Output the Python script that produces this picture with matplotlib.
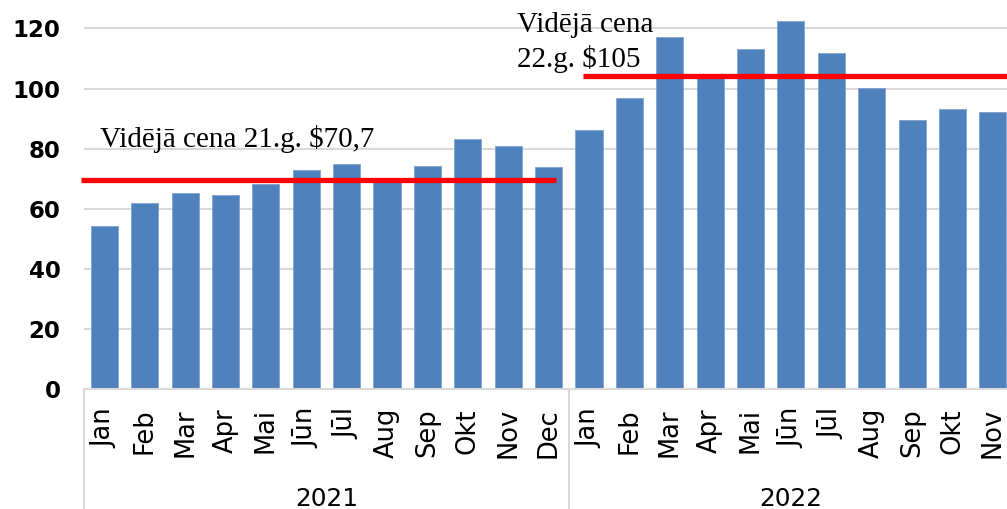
import matplotlib
matplotlib.use("Agg")
import matplotlib.pyplot as plt
from matplotlib.transforms import blended_transform_factory

months = ["Jan", "Feb", "Mar", "Apr", "Mai", "Jūn", "Jūl", "Aug", "Sep", "Okt", "Nov", "Dec",
          "Jan", "Feb", "Mar", "Apr", "Mai", "Jūn", "Jūl", "Aug", "Sep", "Okt", "Nov"]
prices = [54.4, 62.0, 65.2, 64.6, 68.4, 72.9, 74.9, 70.0, 74.2, 83.2, 80.9, 73.9,
          86.2, 96.8, 117.0, 104.0, 113.0, 122.4, 111.7, 100.1, 89.5, 93.1, 92.1]
years = ["2021", "2022"]
year_counts = [12, 11]
avg_2021 = 69.6
avg_2022 = 104.1
avg_labels = ["Vidējā cena 21.g. $70,7", "Vidējā cena", "22.g. $105"]
yticks = [0, 20, 40, 60, 80, 100, 120]

W, H = 1007, 509
fig = plt.figure(figsize=(W / 100, H / 100), dpi=100)
left_px, right_px = 84.1, 84.1 + 23 * 40.39
bottom_px = 389.3
top_px = 4.3
ax = fig.add_axes([left_px / W, (H - bottom_px) / H, (right_px - left_px) / W,
                   (bottom_px - top_px) / H])

x = list(range(len(prices)))
ax.bar(x, prices, width=0.67, color="#4F81BD", edgecolor="#7fa3d1", linewidth=0.6, zorder=2)
ax.set_xlim(-0.5, len(prices) - 0.5)
ax.set_ylim(0, 128)
ax.set_yticks(yticks)
ax.set_yticklabels([str(v) for v in yticks], fontsize=16.5, fontweight="bold",
                   family="DejaVu Sans")
ax.yaxis.grid(True, color="#d9d9d9", linewidth=1.5, zorder=0)
ax.set_axisbelow(True)
ax.tick_params(axis="y", length=0, pad=17)
ax.set_xticks(x)
ax.set_xticklabels(months, rotation=90, fontsize=18.5, family="DejaVu Sans", va="top")
ax.tick_params(axis="x", length=0, pad=13.5)
for s in ["top", "right", "left"]:
    ax.spines[s].set_visible(False)
ax.spines["bottom"].set_color("#d9d9d9")
ax.spines["bottom"].set_linewidth(1.5)

# average lines
ax.plot([-0.577, 11.18], [avg_2021, avg_2021], color="#FF0000", linewidth=3.8,
        solid_capstyle="butt", zorder=3, clip_on=False)
ax.plot([11.85, 22.5], [avg_2022, avg_2022], color="#FF0000", linewidth=3.8,
        solid_capstyle="butt", zorder=3, clip_on=False)

ax.text(-0.106, 80.6, avg_labels[0], family="Liberation Serif", fontsize=21,
        ha="left", va="baseline", zorder=4)
ax.text(10.23, 118.8, avg_labels[1], family="Liberation Serif", fontsize=21,
        ha="left", va="baseline", zorder=4)
ax.text(10.21, 107.1, avg_labels[2], family="Liberation Serif", fontsize=21,
        ha="left", va="baseline", zorder=4)

# group separators and year labels
trans = blended_transform_factory(ax.transData, fig.transFigure)
start = 0
bounds = [-0.5]
for yr, n in zip(years, year_counts):
    center = start + (n - 1) / 2
    ax.text(center, (H - 498.5) / H, yr, transform=trans, ha="center", va="center",
            fontsize=17.8, family="DejaVu Sans")
    start += n
    bounds.append(start - 0.5)
for b in bounds[:-1]:
    ax.plot([b, b], [(H - bottom_px) / H, 0], transform=trans, color="#d9d9d9",
            linewidth=1.5, clip_on=False)

fig.savefig("out.png", dpi=100)
